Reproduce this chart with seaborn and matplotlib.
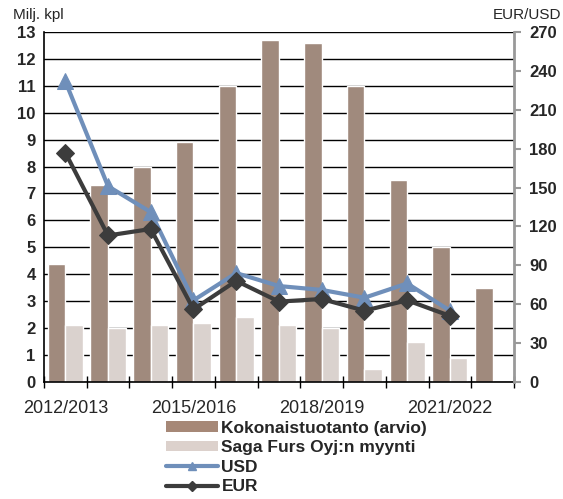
import matplotlib
matplotlib.use("Agg")
import matplotlib.pyplot as plt
import pandas as pd
import seaborn as sns
from matplotlib.patches import Patch
from matplotlib.lines import Line2D

# Seasons
seasons = ["2012/2013", "2013/2014", "2014/2015", "2015/2016", "2016/2017", "2017/2018",
           "2018/2019", "2019/2020", "2020/2021", "2021/2022", "2022/2023"]

# Million pieces (left axis)
total_production = [4.4, 7.3, 8.0, 8.9, 11.0, 12.7, 12.6, 11.0, 7.5, 5.0, 3.5]
saga_sales = [2.1, 2.0, 2.1, 2.2, 2.4, 2.1, 2.0, 0.5, 1.5, 0.9, None]

# Average prices (right axis)
usd_price = [232, 151, 131, 63, 84, 74, 71, 65, 76, 55]
eur_price = [177, 113, 118, 56, 78, 62, 64, 55, 63, 51]

label_total = "Kokonaistuotanto (arvio)"
label_saga = "Saga Furs Oyj:n myynti"

c_total = "#A68877"
c_saga = "#DCD1CC"
c_usd = "#6F8FBA"
c_eur = "#3C3C3C"

sns.set_style("white")
plt.rcParams["font.family"] = ["Liberation Sans", "DejaVu Sans"]

df = pd.DataFrame({
    "season": seasons * 2,
    "value": total_production + saga_sales,
    "series": [label_total] * len(seasons) + [label_saga] * len(seasons),
})

fig = plt.figure(figsize=(5.63, 4.99), dpi=100)
ax = fig.add_axes([0.078, 0.2345, 0.835, 0.7015])

sns.barplot(data=df, x="season", y="value", hue="series", order=seasons,
            palette=[c_total, c_saga], width=0.82, ax=ax, legend=False)

ax.set_ylim(0, 13)
ax.set_yticks(range(0, 14))
ax.set_xlim(-0.5, len(seasons) - 0.5)
ax.grid(axis="y", color="black", linewidth=1)
ax.set_axisbelow(True)
ax.set_xlabel("")
ax.set_ylabel("")

# category boundary ticks, labels every third season
ax.set_xticks([i - 0.5 for i in range(len(seasons) + 1)], minor=False)
ax.set_xticklabels([])
ax.set_xticks(range(len(seasons)), minor=True)
ax.set_xticklabels([s if i % 3 == 0 else "" for i, s in enumerate(seasons)], minor=True, fontsize=13)
ax.tick_params(axis="x", which="major", direction="inout", length=8, width=1, color="black", bottom=True)
ax.tick_params(axis="x", which="minor", length=0, pad=13)
ax.tick_params(axis="y", length=0, labelsize=12, pad=6)
for t in ax.get_yticklabels():
    t.set_fontweight("bold")

for side in ["top", "right"]:
    ax.spines[side].set_visible(False)
ax.spines["left"].set_color("black")
ax.spines["bottom"].set_color("black")
ax.spines["left"].set_linewidth(1.2)
ax.spines["bottom"].set_linewidth(1.2)

# price lines on secondary axis
ax2 = ax.twinx()
idx = list(range(len(usd_price)))
sns.lineplot(x=idx, y=usd_price, ax=ax2, color=c_usd, linewidth=3, marker="^",
             markersize=11, markeredgecolor=c_usd, zorder=3)
sns.lineplot(x=idx, y=eur_price, ax=ax2, color=c_eur, linewidth=3, marker="D",
             markersize=9, markeredgecolor=c_eur, zorder=4)
ax2.set_ylim(0, 270)
ax2.set_yticks(range(0, 271, 30))
ax2.tick_params(axis="y", direction="out", length=5, width=1.5, color="#999999", labelsize=12, pad=6)
for t in ax2.get_yticklabels():
    t.set_fontweight("bold")
for side in ["top", "left", "bottom"]:
    ax2.spines[side].set_visible(False)
ax2.spines["right"].set_color("#999999")
ax2.spines["right"].set_linewidth(2)
ax2.grid(False)

fig.text(0.023, 0.97, "Milj. kpl", fontsize=11, va="center", ha="left")
fig.text(0.997, 0.97, "EUR/USD", fontsize=11, va="center", ha="right")

handles = [
    Patch(facecolor=c_total, edgecolor="none", label=label_total),
    Patch(facecolor=c_saga, edgecolor="none", label=label_saga),
    Line2D([], [], color=c_usd, linewidth=3, marker="^", markersize=6, label="USD"),
    Line2D([], [], color=c_eur, linewidth=3, marker="D", markersize=5, label="EUR"),
]
leg = fig.legend(handles=handles, loc="upper left", bbox_to_anchor=(0.294, 0.157),
                 frameon=False, prop={"weight": "bold", "size": 12.5},
                 handlelength=3.0, handleheight=0.55, handletextpad=0.22,
                 labelspacing=0.26, borderaxespad=0, borderpad=0)

fig.savefig("out.png", dpi=100)
